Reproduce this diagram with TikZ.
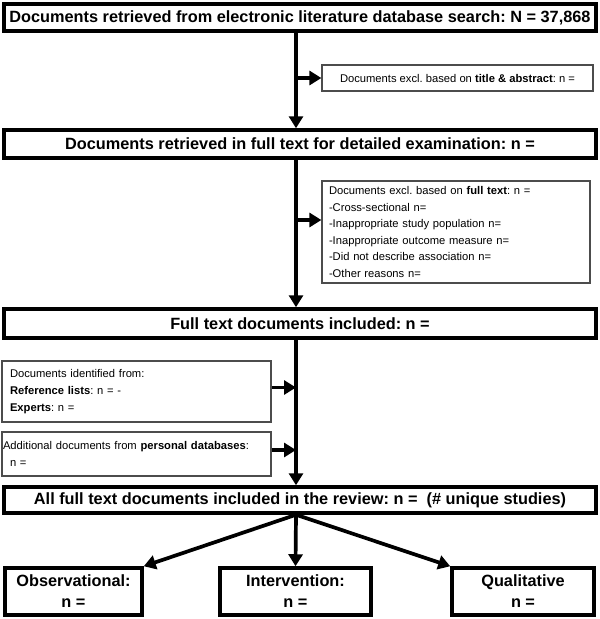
\documentclass[tikz,border=0pt]{standalone}
\usepackage{fontspec}
\setmainfont{Liberation Sans}
\usetikzlibrary{arrows.meta}
\frenchspacing

\begin{document}
\begin{tikzpicture}[x=1pt, y=-1pt,
		bigbox/.style={draw, line width=3.5pt, inner sep=0pt, align=center, font=\fontsize{16.3}{21}\selectfont\bfseries},
		smallbox/.style={draw=black!70, line width=1.2pt, inner sep=0pt, align=left, font=\fontsize{11.2}{16.6}\selectfont},
		flow/.style={-{Triangle[length=12pt, width=14pt]}, line width=3.7pt}]
		\useasboundingbox (0, 0) rectangle (600, 619);
		\coordinate (spine) at (296, 0);

		\node[bigbox, minimum width=592pt, minimum height=27pt] (search) at (300, 17.5) {Documents retrieved from electronic literature database search: N = 37,868};
		\node[smallbox, minimum width=271pt, minimum height=26pt] (titleexcl) at (457.5, 78) {Documents excl. based on \textbf{title \& abstract}: n =};
		\node[bigbox, minimum width=592pt, minimum height=28pt] (fulltext) at (300, 144) {Documents retrieved in full text for detailed examination: n =};
		\node[smallbox, minimum width=268pt, minimum height=102pt, text width=254pt] (fullexcl) at (456, 232) {Documents excl. based on \textbf{full text}: n =\\-Cross-sectional n=\\-Inappropriate study population n=\\-Inappropriate outcome measure n=\\-Did not describe association n=\\-Other reasons n=};
		\node[bigbox, minimum width=592pt, minimum height=29pt] (included) at (300, 323.5) {Full text documents included: n =};
		\node[smallbox, minimum width=269pt, minimum height=61pt, text width=253pt] (reflists) at (136.5, 391.5) {Documents identified from:\\\textbf{Reference lists}: n = -\\\textbf{Experts}: n =};
		\node[smallbox, minimum width=269pt, minimum height=44pt, text width=267pt] (personal) at (136.5, 454) {Additional documents from \textbf{personal databases}:\\\hspace*{7pt}n =};
		\node[bigbox, minimum width=592pt, minimum height=26pt] (review) at (300, 500) {All full text documents included in the review: n =\ \ (\# unique studies)};
		\node[bigbox, minimum width=137pt, minimum height=47pt] (observ) at (73.5, 591.5) {Observational:\\n =};
		\node[bigbox, minimum width=151pt, minimum height=47pt] (interv) at (295.5, 591.5) {Intervention:\\n =};
		\node[bigbox, minimum width=142pt, minimum height=47pt] (qualit) at (523, 591.5) {Qualitative\\n =};

		\draw[flow] (search.south -| spine) -- (fulltext.north -| spine);
		\draw[flow] (spine |- titleexcl.west) -- (titleexcl.west);
		\draw[flow] (fulltext.south -| spine) -- (included.north -| spine);
		\coordinate (fullin) at ([yshift=12pt]fullexcl.west);
		\draw[flow] (spine |- fullin) -- (fullin);
		\draw[flow] (included.south -| spine) -- (review.north -| spine);
		\coordinate (refout) at ([yshift=4pt]reflists.east);
		\draw[flow] (refout) -- (refout -| spine);
		\coordinate (persout) at ([yshift=4pt]personal.east);
		\draw[flow] (persout) -- (persout -| spine);

		\draw[flow] (review.south -| spine) -- (observ.north east);
		\draw[flow] (review.south -| spine) -- (interv.north);
		\draw[flow] (review.south -| spine) -- (qualit.north west);
	\end{tikzpicture}
\end{document}
